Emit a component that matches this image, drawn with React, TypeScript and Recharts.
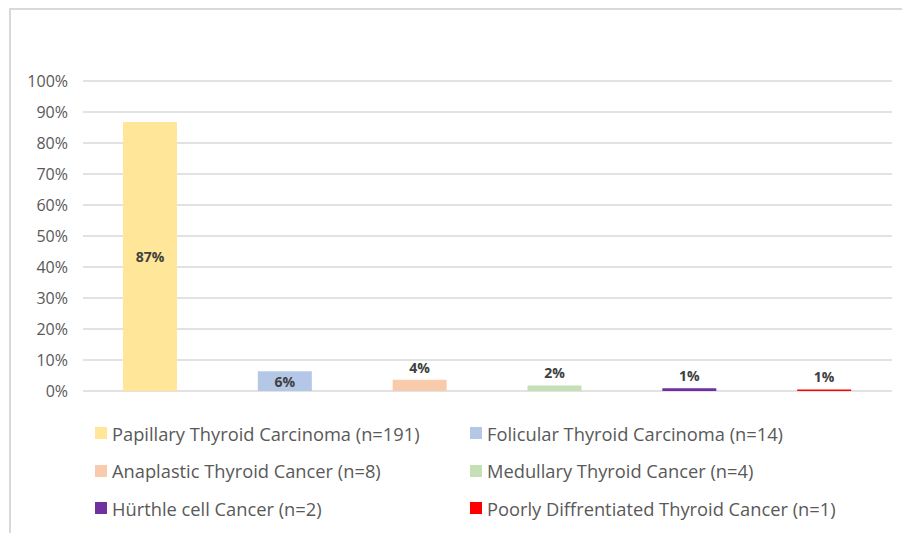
import React from 'react';
import { BarChart, Bar, Cell, XAxis, YAxis, CartesianGrid, LabelList } from 'recharts';

const categories = [
    'Papillary Thyroid Carcinoma (n=191)',
    'Folicular Thyroid Carcinoma (n=14)',
    'Anaplastic Thyroid Cancer (n=8)',
    'Medullary Thyroid Cancer (n=4)',
    'Hürthle cell Cancer (n=2)',
    'Poorly Diffrentiated Thyroid Cancer (n=1)',
];
const percents = [86.8, 6.4, 3.6, 1.8, 0.9, 0.5];
const labels = ['87%', '6%', '4%', '2%', '1%', '1%'];
const colors = ['#FFE699', '#B4C7E7', '#F8CBAD', '#C5E0B4', '#7030A0', '#FF0000'];
const yTicks = [0, 10, 20, 30, 40, 50, 60, 70, 80, 90, 100];

const data = categories.map((name, i) => ({ name, value: percents[i], label: labels[i] }));

const FONT = '"Open Sans", Lato, sans-serif';

// small bars get their label on top, tall ones in the middle
const BarLabel = (props: any) => {
    const { x, y, width, height, index } = props;
    const inside = height > 16;
    return (
        <text
            x={x + width / 2}
            y={inside ? y + height / 2 : y - 7}
            textAnchor="middle"
            dominantBaseline={inside ? 'central' : 'auto'}
            fill="#404040"
            fontFamily={FONT}
            fontWeight={700}
            fontSize={14}
        >
            {labels[index]}
        </text>
    );
};

export default function App() {
    return (
        <div style={{ position: 'absolute', left: 0, top: 0, width: 902, height: 533, background: '#fff', fontFamily: FONT }}>
            <div style={{
                position: 'absolute', left: 9, top: 8, right: 0, bottom: 0,
                borderTop: '2px solid #d9d9d9', borderLeft: '2px solid #d9d9d9',
            }} />
            <div style={{ position: 'absolute', left: 0, top: 0 }}>
                <BarChart width={902} height={533} data={data} margin={{ top: 81, right: 10, left: 8, bottom: 142 }}>
                    <CartesianGrid horizontal vertical={false} stroke="#d9d9d9" strokeWidth={1.5} />
                    <XAxis dataKey="name" hide />
                    <YAxis
                        domain={[0, 100]}
                        ticks={yTicks}
                        width={75}
                        axisLine={false}
                        tickLine={false}
                        tickFormatter={(v) => `${v}%`}
                        tick={{ fill: '#595959', fontSize: 16, fontFamily: FONT }}
                        tickMargin={9}
                    />
                    <Bar dataKey="value" barSize={54} isAnimationActive={false}>
                        {data.map((d, i) => (
                            <Cell key={d.name} fill={colors[i]} />
                        ))}
                        <LabelList dataKey="label" content={BarLabel} />
                    </Bar>
                </BarChart>
            </div>
            {categories.map((c, i) => {
                const col = i % 2;
                const row = Math.floor(i / 2);
                return (
                    <div key={c} style={{
                        position: 'absolute',
                        left: col === 0 ? 95 : 470,
                        top: 433 + row * 37.5 - 12,
                        height: 24,
                        display: 'flex',
                        alignItems: 'center',
                        whiteSpace: 'nowrap',
                        color: '#595959',
                        fontSize: 18.3,
                    }}>
                        <span style={{ display: 'inline-block', width: 12, height: 12, background: colors[i], marginRight: 5 }} />
                        {c}
                    </div>
                );
            })}
        </div>
    );
}
